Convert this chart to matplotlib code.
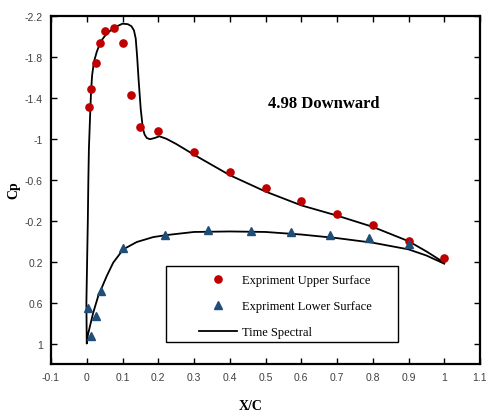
import matplotlib
matplotlib.use("Agg")
import matplotlib.pyplot as plt
from matplotlib.patches import Rectangle

# Experimental data
upper_x = [0.005, 0.0125, 0.025, 0.0375, 0.05, 0.075, 0.1, 0.125, 0.15, 0.2,
           0.3, 0.4, 0.5, 0.6, 0.7, 0.8, 0.9, 1.0]
upper_cp = [-1.31, -1.49, -1.74, -1.94, -2.05, -2.08, -1.94, -1.43, -1.12, -1.08,
            -0.87, -0.68, -0.52, -0.39, -0.27, -0.16, 0.0, 0.16]

lower_x = [0.0025, 0.0125, 0.025, 0.04, 0.1, 0.22, 0.34, 0.46, 0.57, 0.68, 0.79, 0.9]
lower_cp = [0.65, 0.93, 0.73, 0.49, 0.07, -0.06, -0.11, -0.10, -0.09, -0.06, -0.03, 0.03]

# Time Spectral curve: upper surface (LE -> TE)
ts_upper_x = [0.0, -0.001, 0.001, 0.003, 0.0045, 0.006, 0.009, 0.012, 0.015, 0.02,
              0.028, 0.039, 0.056, 0.079, 0.1, 0.115, 0.125, 0.132, 0.137, 0.141,
              0.145, 0.151, 0.157, 0.162, 0.168, 0.177, 0.191, 0.203, 0.223, 0.25,
              0.3, 0.4, 0.5, 0.6, 0.7, 0.8, 0.9, 0.95, 1.0]
ts_upper_cp = [1.0, 0.6, 0.2, -0.2, -0.6, -0.9, -1.19, -1.46, -1.62, -1.75,
               -1.85, -1.95, -2.03, -2.09, -2.125, -2.12, -2.10, -2.06, -1.98, -1.80,
               -1.58, -1.29, -1.10, -1.04, -1.008, -0.996, -1.009, -1.025, -1.0, -0.95,
               -0.845, -0.645, -0.485, -0.35, -0.25, -0.14, 0.0, 0.10, 0.21]
# Time Spectral curve: lower surface (LE -> TE)
ts_lower_x = [0.0, 0.003, 0.009, 0.018, 0.032, 0.056, 0.074, 0.102, 0.14, 0.186,
              0.224, 0.3, 0.4, 0.5, 0.6, 0.7, 0.8, 0.9, 0.95, 1.0]
ts_lower_cp = [1.0, 0.92, 0.83, 0.70, 0.537, 0.34, 0.21, 0.08, 0.008, -0.04,
               -0.06, -0.09, -0.095, -0.09, -0.065, -0.03, 0.015, 0.08, 0.14, 0.22]

x_ticks = [-0.1, 0, 0.1, 0.2, 0.3, 0.4, 0.5, 0.6, 0.7, 0.8, 0.9, 1, 1.1]
x_tick_labels = ["-0.1", "0", "0.1", "0.2", "0.3", "0.4", "0.5", "0.6", "0.7",
                 "0.8", "0.9", "1", "1.1"]
y_ticks = [-2.2, -1.8, -1.4, -1.0, -0.6, -0.2, 0.2, 0.6, 1.0]
y_tick_labels = ["-2.2", "-1.8", "-1.4", "-1", "-0.6", "-0.2", "0.2", "0.6", "1"]

W, H = 486, 414
fig = plt.figure(figsize=(W / 100, H / 100), dpi=100)
ax = fig.add_axes([51 / W, 1 - 365 / H, (480 - 51) / W, (365 - 17) / H])

ts_x = ts_lower_x[::-1] + ts_upper_x[1:]
ts_cp = ts_lower_cp[::-1] + ts_upper_cp[1:]

ax.plot(upper_x, upper_cp, 'o', color='#C00000', markersize=5.2,
        label='Expriment Upper Surface', zorder=3)
ax.plot(lower_x, lower_cp, '^', color='#1F4E79', markersize=5.5,
        label='Expriment Lower Surface', zorder=3)
ax.plot(ts_x, ts_cp, '-', color='black', linewidth=1.3,
        label='Time Spectral', zorder=2)

ax.set_xlim(-0.1, 1.1)
ax.set_ylim(1.2, -2.2)
ax.set_xticks(x_ticks)
ax.set_xticklabels(x_tick_labels)
ax.set_yticks(y_ticks)
ax.set_yticklabels(y_tick_labels)
ax.tick_params(direction='in', length=4, width=1, top=True, right=True,
               labelsize=7.5, labelcolor='#404040', pad=6)
for lab in ax.get_xticklabels() + ax.get_yticklabels():
    lab.set_family('Liberation Sans')
for s in ax.spines.values():
    s.set_linewidth(1.6)

ax.text(0.664, -1.35, '4.98 Downward', family='Liberation Serif',
        fontweight='bold', fontsize=12, ha='center', va='center')

fig.text(14 / W, 1 - 190 / H, 'Cp', family='Liberation Serif', fontweight='bold',
         fontsize=10, rotation=90, ha='center', va='center')
fig.text(251 / W, 1 - 407 / H, 'X/C', family='Liberation Serif', fontweight='bold',
         fontsize=10, ha='center', va='center')

# legend frame
frame = Rectangle((166 / W, 1 - 343 / H), (398 - 166) / W, (343 - 267) / H,
                  transform=fig.transFigure, facecolor='white', edgecolor='black',
                  linewidth=1.0, zorder=4, clip_on=False)
ax.add_patch(frame)
leg = ax.legend(loc='upper left', bbox_to_anchor=(199 / W, 1 - 275.5 / H),
                bbox_transform=fig.transFigure, frameon=False, borderpad=0,
                borderaxespad=0, prop={'family': 'Liberation Serif', 'size': 9},
                handlelength=3.0, handletextpad=0.4, labelspacing=1.1,
                numpoints=1)
leg.set_zorder(5)

fig.savefig('out.png', dpi=100)
